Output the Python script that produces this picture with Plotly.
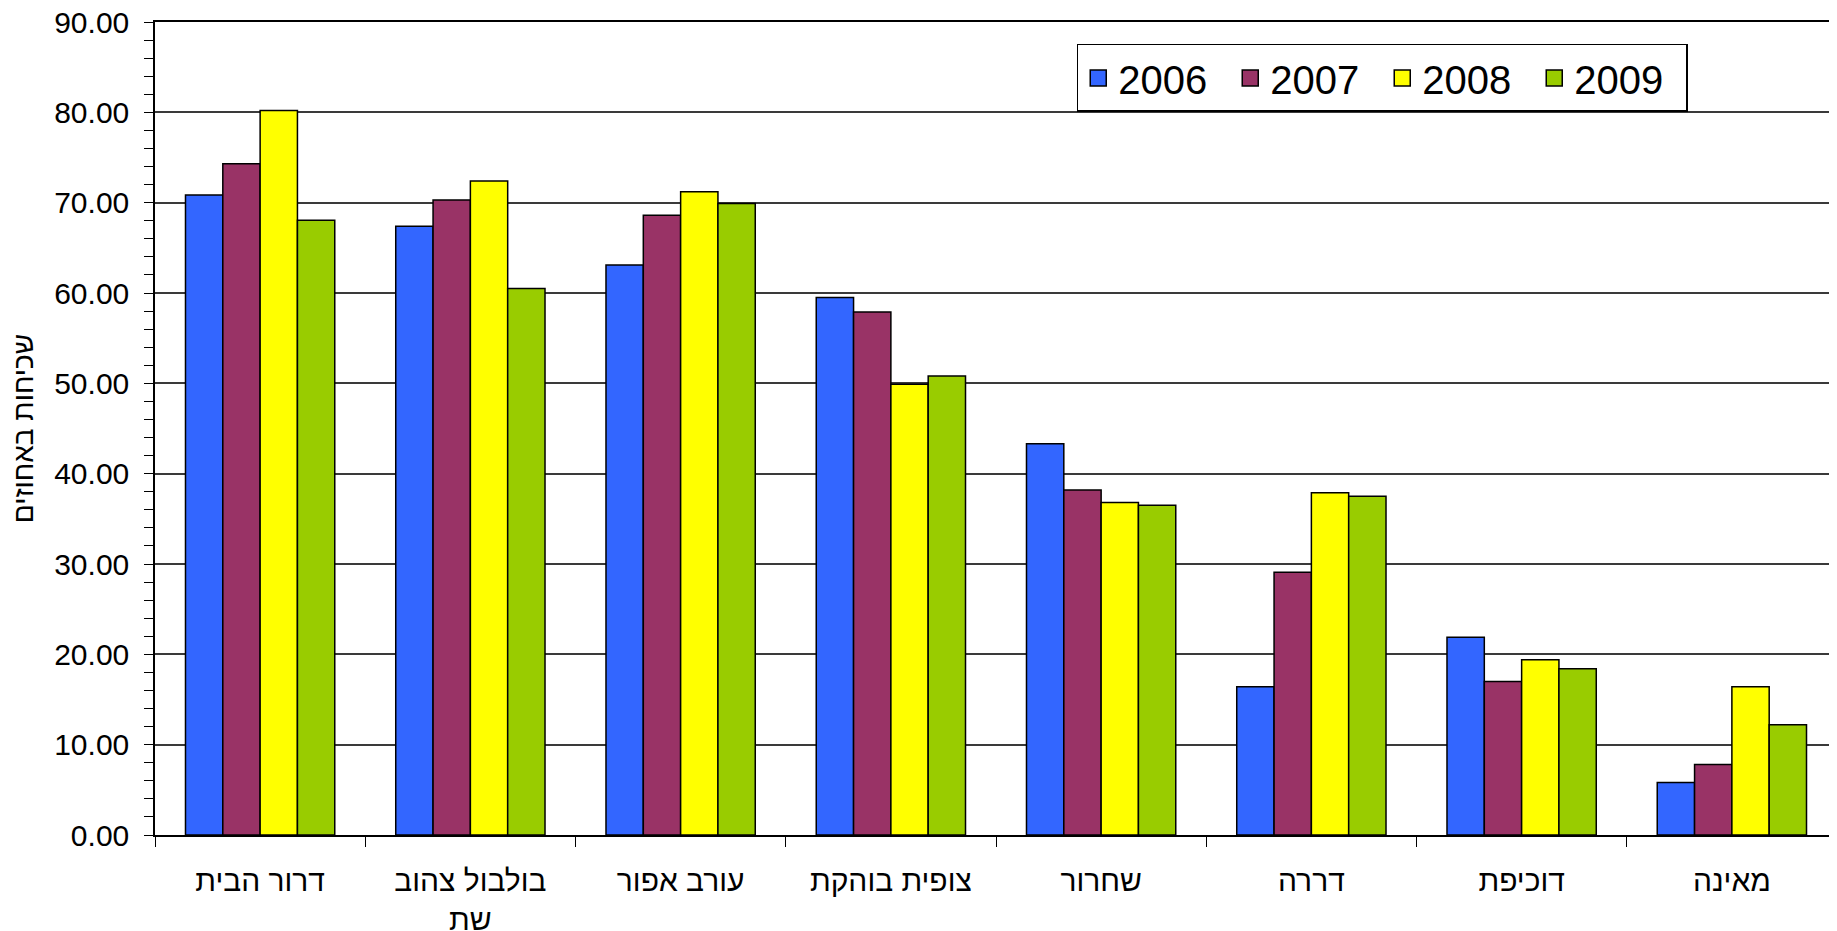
import plotly.graph_objects as go

# species (x categories) and yearly frequencies in percent
species = ["דרור הבית", "בולבול צהוב<br>שת", "עורב אפור", "צופית בוהקת",
           "שחרור", "דררה", "דוכיפת", "מאינה"]

years = ["2006", "2007", "2008", "2009"]

values_2006 = [70.85, 67.4, 63.1, 59.5, 43.3, 16.4, 21.9, 5.8]
values_2007 = [74.3, 70.3, 68.6, 57.9, 38.2, 29.1, 17.0, 7.8]
values_2008 = [80.2, 72.4, 71.2, 49.9, 36.8, 37.9, 19.4, 16.4]
values_2009 = [68.05, 60.5, 69.9, 50.8, 36.5, 37.5, 18.4, 12.2]

colors = ["#3366FF", "#993366", "#FFFF00", "#99CC00"]

fig = go.Figure()

for year, vals, col in zip(years, [values_2006, values_2007, values_2008, values_2009], colors):
	fig.add_trace(go.Bar(
		x=species,
		y=vals,
		name=year,
		legendgroup=year,
		showlegend=False,
		marker=dict(color=col, line=dict(color="#000000", width=1.5))
	))
	# legend entry with a larger square swatch
	fig.add_trace(go.Scatter(
		x=[None], y=[None],
		mode="markers",
		name=year,
		legendgroup=year,
		marker=dict(symbol="square", size=30, color=col, line=dict(color="#000000", width=1.5))
	))

# page body has an 8px margin, so the figure is a bit smaller than the window
fig.update_layout(
	width=1829,
	height=923,
	barmode="group",
	bargap=0.29,
	bargroupgap=0,
	plot_bgcolor="white",
	paper_bgcolor="white",
	font=dict(family="Liberation Sans, Arial", color="#000000"),
	margin=dict(l=147, r=0, t=14, b=96),
	showlegend=True,
	legend=dict(
		orientation="h",
		x=0.548, y=0.973,
		xanchor="left", yanchor="top",
		font=dict(size=40),
		bordercolor="#000000",
		borderwidth=1.5,
		bgcolor="white",
		traceorder="normal",
		entrywidth=107,
		entrywidthmode="pixels"
	)
)

fig.update_xaxes(
	automargin=False,
	showline=True,
	mirror=True,
	linecolor="#000000",
	linewidth=1.5,
	ticks="outside",
	tickson="boundaries",
	ticklen=10,
	tickcolor="#000000",
	tickfont=dict(size=30),
	ticklabelstandoff=18,
	showgrid=False
)

fig.update_yaxes(
	automargin=False,
	range=[0, 90],
	dtick=10,
	tickformat=".2f",
	ticklabeloverflow="allow",
	showline=True,
	linecolor="#000000",
	linewidth=1.5,
	ticks="outside",
	ticklen=9,
	tickcolor="#000000",
	tickfont=dict(size=30),
	ticklabelstandoff=9,
	showgrid=True,
	gridcolor="#3a3a3a",
	gridwidth=1.5,
	zeroline=False,
	minor=dict(dtick=2, ticks="outside", ticklen=9, tickcolor="#000000", showgrid=False),
	title_text="שכיחות באחוזים",
	title_font=dict(size=28),
	title_standoff=12
)

fig.write_html("out.html")
